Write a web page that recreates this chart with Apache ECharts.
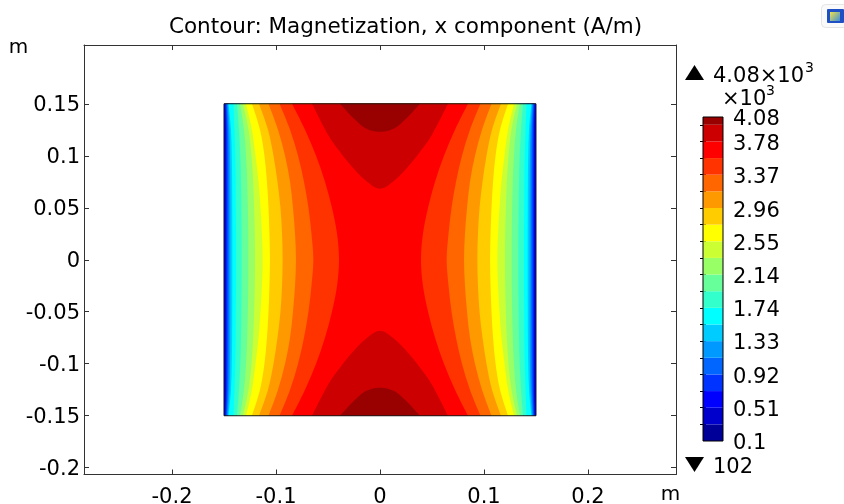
<!DOCTYPE html>
<html>
<head>
<meta charset="utf-8">
<script src="https://cdn.jsdelivr.net/npm/echarts@6/dist/echarts.min.js"></script>
<style>
  html, body { margin: 0; padding: 0; background: #fff; }
  #chart { width: 844px; height: 504px; }
</style>
</head>
<body>
<div id="chart"></div>
<script>
// Contour levels of Mx (×10³ A/m); each level starts a new colour band
const contourLevels = [0.1, 0.3044, 0.5089, 0.7133, 0.9178, 1.1222, 1.3267, 1.5311, 1.7356, 1.94,
  2.1444, 2.3489, 2.5533, 2.7578, 2.9622, 3.1667, 3.3711, 3.5756, 3.78, 3.9844];
const rangeMax = 4.08;      // ×10³ A/m
const rangeMinLabel = '102'; // A/m
const colorbarTicks = [0.1, 0.51, 0.92, 1.33, 1.74, 2.14, 2.55, 2.96, 3.37, 3.78, 4.08];
const xTicks = [-0.2, -0.1, 0, 0.1, 0.2];
const yTicks = [-0.2, -0.15, -0.1, -0.05, 0, 0.05, 0.1, 0.15];

// Magnet cross-section (m)
const blockX = [-0.15, 0.15];
const blockY = [-0.15, 0.15];

// Side contours: x of the left-hand branch at each height in rowY (upper half).
// The field is mirror-symmetric about x = 0 and y = 0.
const rowY = [0.15, 0.125, 0.1, 0.075, 0.05, 0.025, 0];
const c01 = [-0.1497, -0.1497, -0.1497, -0.1497, -0.1497, -0.1497, -0.1497];
const c02 = [-0.1492, -0.1489, -0.1488, -0.1488, -0.1488, -0.1488, -0.1488];
const c03 = [-0.1486, -0.1480, -0.1479, -0.1478, -0.1478, -0.1478, -0.1478];
const c04 = [-0.1478, -0.1469, -0.1467, -0.1466, -0.1466, -0.1466, -0.1466];
const c05 = [-0.1470, -0.1459, -0.1456, -0.1455, -0.1454, -0.1454, -0.1454];
const c06 = [-0.1462, -0.1447, -0.1442, -0.1440, -0.1439, -0.1439, -0.1439];
const c07 = [-0.1455, -0.1433, -0.1425, -0.1422, -0.1421, -0.1420, -0.1420];
const c08 = [-0.1409, -0.1399, -0.1392, -0.1388, -0.1387, -0.1385, -0.1385];
const c09 = [-0.1375, -0.1356, -0.1343, -0.1337, -0.1333, -0.1331, -0.1330];
const c10 = [-0.1346, -0.1308, -0.1288, -0.1277, -0.1271, -0.1267, -0.1266];
const c11 = [-0.1317, -0.1264, -0.1236, -0.1219, -0.1210, -0.1204, -0.1202];
const c12 = [-0.1288, -0.1231, -0.1197, -0.1168, -0.1149, -0.1135, -0.1128];
const c13 = [-0.1231, -0.1154, -0.1111, -0.1087, -0.1072, -0.1063, -0.1058];
const c14 = [-0.1163, -0.1077, -0.1024, -0.0986, -0.0957, -0.0942, -0.0936];
const c15 = [-0.1072, -0.0981, -0.0913, -0.0865, -0.0837, -0.0817, -0.0808];
const c16 = [-0.0966, -0.0865, -0.0788, -0.0731, -0.0688, -0.0659, -0.0641];
const c17 = [-0.0846, -0.0721, -0.0615, -0.0529, -0.0462, -0.0413, -0.0394];

// Cap contours near the top and bottom faces: left half, from the face to x = 0
const cap18X = [-0.0654, -0.0500, -0.0385, -0.0269, -0.0135, 0];
const cap18Y = [0.15, 0.1202, 0.1038, 0.0894, 0.0760, 0.0683];
const cap19X = [-0.0385, -0.0269, -0.0163, -0.0077, 0];
const cap19Y = [0.15, 0.1375, 0.1279, 0.1240, 0.1231];

// Rainbow palette, one colour per band (low to high)
const bandColors = ['#000099', '#0000cc', '#0000ff', '#0033ff', '#0066ff', '#0099ff', '#00ccff',
  '#00ffff', '#33ffcc', '#66ff99', '#99ff66', '#ccff33', '#ffff00', '#ffcc00', '#ff9900',
  '#ff6600', '#ff3300', '#ff0000', '#cc0000', '#990000'];

const FONT = 'DejaVu Sans';
const AXIS_COLOR = '#333';

const sideContours = [c01, c02, c03, c04, c05, c06, c07, c08, c09, c10, c11, c12, c13, c14, c15, c16, c17];
const caps = [
  { x: cap18X, y: cap18Y, level: 18, sign: 1 },
  { x: cap18X, y: cap18Y, level: 18, sign: -1 },
  { x: cap19X, y: cap19Y, level: 19, sign: 1 },
  { x: cap19X, y: cap19Y, level: 19, sign: -1 }
];

// Drawing order: base band, side bands, caps, outline
const layers = [{ kind: 'base' }]
  .concat(sideContours.map((c, i) => ({ kind: 'side', level: i + 1 })))
  .concat(caps.map(c => ({ kind: 'cap', cap: c })))
  .concat([{ kind: 'outline' }]);

function f(n) { return n.toFixed(2); }

// Smooth curve (Catmull-Rom as cubic Béziers) through pixel points
function curve(pts, move) {
  let d = (move ? 'M' : 'L') + f(pts[0][0]) + ',' + f(pts[0][1]);
  for (let i = 0; i < pts.length - 1; i++) {
    const p0 = pts[i - 1] || pts[i], p1 = pts[i], p2 = pts[i + 1], p3 = pts[i + 2] || pts[i + 1];
    const c1x = p1[0] + (p2[0] - p0[0]) / 6, c1y = p1[1] + (p2[1] - p0[1]) / 6;
    const c2x = p2[0] - (p3[0] - p1[0]) / 6, c2y = p2[1] - (p3[1] - p1[1]) / 6;
    d += 'C' + f(c1x) + ',' + f(c1y) + ',' + f(c2x) + ',' + f(c2y) + ',' + f(p2[0]) + ',' + f(p2[1]);
  }
  return d;
}

function renderField(params, api) {
  const layer = layers[params.dataIndex];
  if (layer.kind === 'base' || layer.kind === 'outline') {
    const tl = api.coord([blockX[0], blockY[1]]);
    const br = api.coord([blockX[1], blockY[0]]);
    const shape = { x: tl[0], y: tl[1], width: br[0] - tl[0], height: br[1] - tl[1] };
    return layer.kind === 'base'
      ? { type: 'rect', shape, style: { fill: bandColors[0] } }
      : { type: 'rect', shape, style: { fill: null, stroke: '#1a1a1a', lineWidth: 1 } };
  }
  if (layer.kind === 'side') {
    const xs = sideContours[layer.level - 1];
    const left = [];
    for (let i = 0; i < rowY.length; i++) left.push([xs[i], rowY[i]]);
    for (let i = rowY.length - 2; i >= 0; i--) left.push([xs[i], -rowY[i]]);
    const right = left.slice().reverse().map(p => [-p[0], p[1]]);
    const d = curve(left.map(p => api.coord(p)), true) + curve(right.map(p => api.coord(p)), false) + 'Z';
    return { type: 'path', shape: { pathData: d }, style: { fill: bandColors[layer.level] } };
  }
  const c = layer.cap;
  const pts = [];
  for (let i = 0; i < c.x.length; i++) pts.push([c.x[i], c.sign * c.y[i]]);
  for (let i = c.x.length - 2; i >= 0; i--) pts.push([-c.x[i], c.sign * c.y[i]]);
  const d = curve(pts.map(p => api.coord(p)), true) + 'Z';
  return { type: 'path', shape: { pathData: d }, style: { fill: bandColors[c.level] } };
}

// Colour legend: one rectangle per band, plus a frame
const legendItems = contourLevels.map((lo, i) => ({ lo, hi: i + 1 < contourLevels.length ? contourLevels[i + 1] : rangeMax }));
function renderLegend(params, api) {
  if (params.dataIndex === legendItems.length) {
    const a = api.coord([0, rangeMax]), b = api.coord([1, contourLevels[0]]);
    return { type: 'rect', shape: { x: a[0], y: a[1], width: b[0] - a[0], height: b[1] - a[1] },
      style: { fill: null, stroke: '#000', lineWidth: 1 } };
  }
  const it = legendItems[params.dataIndex];
  const a = api.coord([0, it.hi]), b = api.coord([1, it.lo]);
  return { type: 'rect', shape: { x: a[0], y: a[1], width: b[0] - a[0], height: b[1] - a[1] },
    style: { fill: bandColors[params.dataIndex] } };
}

const labelStyle = { color: '#000', fontFamily: FONT, fontSize: 21 };
const frameAxis = {
  type: 'value',
  axisLine: { show: true, onZero: false, lineStyle: { color: AXIS_COLOR, width: 1 } },
  splitLine: { show: false }
};

const chart = echarts.init(document.getElementById('chart'), null, { renderer: 'canvas' });
chart.setOption({
  animation: false,
  backgroundColor: '#fff',
  textStyle: { fontFamily: FONT },
  grid: [
    { left: 84, top: 45, width: 592, height: 429.5, containLabel: false, outerBoundsMode: 'none' },
    { left: 703, top: 117, width: 20, height: 324, containLabel: false, outerBoundsMode: 'none' }
  ],
  xAxis: [
    Object.assign({}, frameAxis, {
      gridIndex: 0, position: 'bottom', min: -0.28462, max: 0.28462,
      axisTick: { show: true, inside: true, length: 5, customValues: xTicks, lineStyle: { color: AXIS_COLOR } },
      axisLabel: Object.assign({ customValues: xTicks, margin: 12.5, formatter: v => String(v) }, labelStyle)
    }),
    Object.assign({}, frameAxis, {
      gridIndex: 0, position: 'top', min: -0.28462, max: 0.28462,
      axisTick: { show: true, inside: true, length: 5, customValues: xTicks, lineStyle: { color: AXIS_COLOR } },
      axisLabel: { show: false }
    }),
    { type: 'value', gridIndex: 1, min: 0, max: 1, show: false }
  ],
  yAxis: [
    Object.assign({}, frameAxis, {
      gridIndex: 0, position: 'left', min: -0.2065, max: 0.2065,
      axisTick: { show: true, inside: true, length: 5, customValues: yTicks, lineStyle: { color: AXIS_COLOR } },
      axisLabel: Object.assign({ customValues: yTicks, margin: 4, verticalAlign: 'top', lineHeight: 4,
        formatter: v => String(v) }, labelStyle)
    }),
    Object.assign({}, frameAxis, {
      gridIndex: 0, position: 'right', min: -0.2065, max: 0.2065,
      axisTick: { show: true, inside: true, length: 5, customValues: yTicks, lineStyle: { color: AXIS_COLOR } },
      axisLabel: { show: false }
    }),
    {
      type: 'value', gridIndex: 1, position: 'right', min: contourLevels[0], max: rangeMax,
      axisLine: { show: false }, splitLine: { show: false },
      axisTick: { show: true, inside: true, length: 3, customValues: contourLevels.slice(1), lineStyle: { color: '#000' } },
      axisLabel: Object.assign({ customValues: colorbarTicks, margin: 10, verticalAlign: 'top', lineHeight: 6,
        formatter: v => String(v) }, labelStyle)
    },
    {
      type: 'value', gridIndex: 1, position: 'left', min: contourLevels[0], max: rangeMax,
      axisLine: { show: false }, splitLine: { show: false },
      axisTick: { show: true, inside: true, length: 3, customValues: contourLevels.slice(1), lineStyle: { color: '#000' } },
      axisLabel: { show: false }
    }
  ],
  series: [
    {
      type: 'custom', name: 'Mx', coordinateSystem: 'cartesian2d', xAxisIndex: 0, yAxisIndex: 0,
      silent: true, clip: false,
      data: layers.map(() => [0, 0]),
      renderItem: renderField
    },
    {
      type: 'custom', name: 'legend', coordinateSystem: 'cartesian2d', xAxisIndex: 2, yAxisIndex: 2,
      silent: true, clip: false,
      data: legendItems.map(() => [0, 0]).concat([[0, 0]]),
      renderItem: renderLegend
    }
  ],
  graphic: [
    { type: 'text', x: 405.5, y: 27, style: { text: 'Contour: Magnetization, x component (A/m)', fill: '#000',
      font: '21.5px "DejaVu Sans"', align: 'center', verticalAlign: 'middle' } },
    { type: 'text', x: 18.5, y: 48, style: { text: 'm', fill: '#000', font: '20px "DejaVu Sans"', align: 'center', verticalAlign: 'middle' } },
    { type: 'text', x: 670.5, y: 495, style: { text: 'm', fill: '#000', font: '20px "DejaVu Sans"', align: 'center', verticalAlign: 'middle' } },
    // max / min markers beside the legend
    { type: 'polygon', shape: { points: [[685, 80], [704, 80], [694.5, 65]] }, style: { fill: '#000' } },
    { type: 'text', x: 713, y: 77, style: { text: '4.08×10', fill: '#000', font: '21px "DejaVu Sans"', align: 'left', verticalAlign: 'middle' } },
    { type: 'text', x: 805, y: 68, style: { text: '3', fill: '#000', font: '14px "DejaVu Sans"', align: 'left', verticalAlign: 'middle' } },
    { type: 'text', x: 722, y: 100, style: { text: '×10', fill: '#000', font: '21px "DejaVu Sans"', align: 'left', verticalAlign: 'middle' } },
    { type: 'text', x: 766, y: 91, style: { text: '3', fill: '#000', font: '14px "DejaVu Sans"', align: 'left', verticalAlign: 'middle' } },
    { type: 'polygon', shape: { points: [[685, 457], [704, 457], [694.5, 472]] }, style: { fill: '#000' } },
    { type: 'text', x: 713, y: 468, style: { text: rangeMinLabel, fill: '#000', font: '21px "DejaVu Sans"', align: 'left', verticalAlign: 'middle' } },
    // window icon in the corner
    { type: 'rect', shape: { x: 821.5, y: 4.5, width: 26, height: 23, r: 4 }, style: { fill: '#fafafa', stroke: '#e4e4e4', lineWidth: 1 } },
    { type: 'rect', shape: { x: 827, y: 9, width: 17, height: 14, r: 1 }, style: { fill: '#1f4fc4' } },
    { type: 'rect', shape: { x: 830, y: 12, width: 10, height: 9 },
      style: { fill: new echarts.graphic.LinearGradient(0, 0, 1, 1, [{ offset: 0, color: '#f2e24a' }, { offset: 1, color: '#3d8fd8' }]) } }
  ]
});
</script>
</body>
</html>
